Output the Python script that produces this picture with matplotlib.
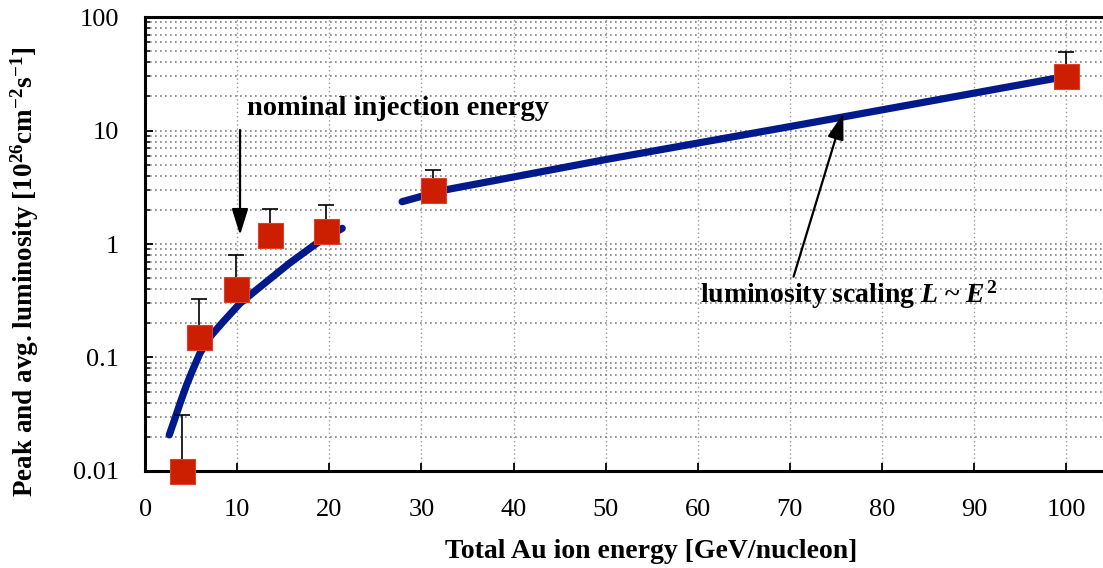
import matplotlib
matplotlib.use("Agg")
import matplotlib.pyplot as plt
from matplotlib.ticker import FixedLocator, FixedFormatter, LogLocator, NullFormatter

plt.rcParams['font.family'] = 'Liberation Serif'
plt.rcParams['mathtext.fontset'] = 'custom'
plt.rcParams['mathtext.rm'] = 'Liberation Serif'
plt.rcParams['mathtext.it'] = 'Liberation Serif:italic:bold'
plt.rcParams['mathtext.bf'] = 'Liberation Serif:bold'

# measured luminosities (red squares) and upper end of the error bars
energy = [4.0, 5.8, 9.9, 13.6, 19.6, 31.3, 100.0]
lumi = [0.010, 0.152, 0.40, 1.19, 1.29, 3.01, 30.0]
lumi_top = [0.031, 0.33, 0.80, 2.02, 2.21, 4.49, 49.5]

# blue curves
low_e = [2.62, 3.24, 3.85, 4.5, 5.16, 5.95, 7.04, 8.48, 10.3, 12.5, 15.7, 18.6, 21.4]
low_l = [0.0208, 0.0291, 0.0408, 0.0573, 0.0776, 0.109, 0.152, 0.207, 0.30,
         0.42, 0.68, 1.01, 1.375]
high_e = [27.9, 30.0, 32.5, 50.0, 71.0, 100.0]
high_l = [2.36, 2.63, 2.99, 5.55, 11.2, 30.0]

xticks = [0, 10, 20, 30, 40, 50, 60, 70, 80, 90, 100]
yticks = [0.01, 0.1, 1, 10, 100]
ylabels = ['0.01', '0.1', '1', '10', '100']

fig = plt.figure(figsize=(11.03, 5.68), dpi=100)
ax = fig.add_axes([0.1316, 0.1708, 0.8684, 0.7992])
ax.set_yscale('log')
ax.set_xlim(0, 104)
ax.set_ylim(0.01, 100)

navy = '#001a8c'
red = '#cc1e00'

ax.plot(low_e, low_l, color=navy, lw=5.2, solid_capstyle='round',
        solid_joinstyle='round', zorder=3)
ax.plot(high_e, high_l, color=navy, lw=5.2, solid_capstyle='round',
        solid_joinstyle='round', zorder=3)

up = [t - v for t, v in zip(lumi_top, lumi)]
ax.errorbar(energy, lumi, yerr=[[0] * len(lumi), up], fmt='none',
            ecolor='black', elinewidth=1.2, capsize=6, capthick=1.2,
            zorder=4, clip_on=False)
ax.plot(energy, lumi, 's', color=red, ms=18, mec='#e0402a', mew=0.8,
        zorder=5, clip_on=False)

# grid
ax.xaxis.set_major_locator(FixedLocator(xticks))
ax.yaxis.set_major_locator(FixedLocator(yticks))
ax.yaxis.set_major_formatter(FixedFormatter(ylabels))
ax.yaxis.set_minor_locator(LogLocator(base=10, subs=range(2, 10)))
ax.yaxis.set_minor_formatter(NullFormatter())
ax.grid(True, axis='x', which='major', ls=(0, (1, 2)), color='#9a9a9a', lw=1.0)
ax.grid(True, axis='y', which='both', ls=(0, (1, 2)), color='#808080', lw=1.2)
ax.set_axisbelow(True)

for side in ['left', 'bottom', 'top']:
    ax.spines[side].set_linewidth(2.2)
ax.spines['right'].set_visible(False)

ax.tick_params(axis='both', which='major', direction='in', length=6, width=1.3,
               labelsize=19, top=False, right=False)
ax.tick_params(axis='x', which='major', pad=20)
ax.tick_params(axis='y', which='major', pad=19)
ax.tick_params(axis='y', which='minor', direction='in', length=3.6, width=1.1,
               right=False)

# annotations
arrow = dict(arrowstyle='-|>,head_length=1.6,head_width=0.5',
             mutation_scale=10, lw=1.6, color='black', shrinkA=0, shrinkB=0)
ax.text(11.05, 13.7, 'nominal injection energy', fontsize=20.5,
        fontweight='bold', va='baseline', ha='left')
ax.annotate('', xy=(10.3, 1.2), xytext=(10.3, 10.1), arrowprops=arrow)
ax.text(60.2, 0.304, r'luminosity scaling $L$ ~ $E^{\mathbf{2}}$', fontsize=20,
        fontweight='bold', va='baseline', ha='left')
ax.annotate('', xy=(75.8, 14.2), xytext=(70.4, 0.515), arrowprops=arrow)

fig.text(0.590, 0.0176, 'Total Au ion energy [GeV/nucleon]', fontsize=20,
         fontweight='bold', ha='center', va='baseline')
fig.text(0.0227, 0.522,
         r'Peak and avg. luminosity [10$^{\mathbf{26}}$cm$^{\mathbf{-2}}$s$^{\mathbf{-1}}$]',
         fontsize=19.5, fontweight='bold', rotation=90, ha='center', va='center')

fig.savefig('out.png', dpi=100)
